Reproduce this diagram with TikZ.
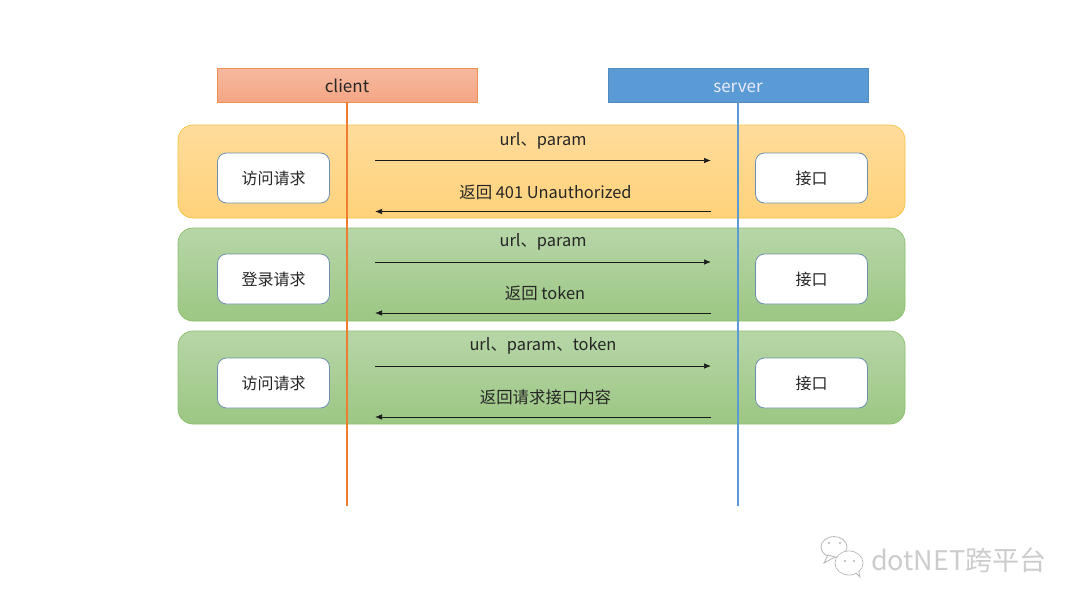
\documentclass[tikz,border=0pt]{standalone}
\usepackage{fontspec}
\setmainfont{Noto Sans CJK SC}
\usetikzlibrary{arrows.meta}
\definecolor{orangeedge}{HTML}{ED7D31}
\definecolor{blueedge}{HTML}{5B9BD5}
\definecolor{boxedge}{HTML}{6E8FB0}
\definecolor{ytop}{HTML}{FFDC9C}
\definecolor{ybot}{HTML}{FFD27A}
\definecolor{yedge}{HTML}{F5C242}
\definecolor{gtop}{HTML}{B7D6A8}
\definecolor{gbot}{HTML}{9CC783}
\definecolor{gedge}{HTML}{8CBF6C}
\definecolor{ctop}{HTML}{F6B9A0}
\definecolor{cbot}{HTML}{F4A684}
\definecolor{msgline}{HTML}{1A1A1A}
\tikzset{
  x=1pt,y=-1pt,
  every node/.style={inner sep=0pt,outer sep=0pt,text=black!85},
  header/.style={minimum width=260pt,minimum height=34pt,text height=15pt,text depth=1pt,font=\fontsize{17}{20}\selectfont},
  band/.style={rounded corners=15pt,minimum width=727pt,minimum height=93pt,line width=.7pt},
  yband/.style={band,draw=yedge,top color=ytop,bottom color=ybot},
  gband/.style={band,draw=gedge,top color=gtop,bottom color=gbot},
  actbox/.style={draw=boxedge,line width=.8pt,fill=white,rounded corners=9pt,minimum width=112pt,minimum height=50pt,font=\fontsize{16}{19}\selectfont},
  lbl/.style={font=\fontsize{16.4}{19}\selectfont,text height=13pt,text depth=1pt},
  msg/.style={-{Latex[length=7pt,width=5.5pt]},draw=msgline,line width=.7pt},
  life/.style={draw=#1,line width=1.2pt},
  mark bubble/.style={draw=black!28,line width=.8pt,fill=white},
}
\begin{document}
\begin{tikzpicture}
\useasboundingbox (0,0) rectangle (1080,608);
\fill[white] (0,0) rectangle (1080,608);
% bands
\node[yband] (b1) at (541.5,171.5) {};
\node[gband] (b2) at (541.5,274.5) {};
\node[gband] (b3) at (541.5,377.5) {};
% headers
\node[header,draw=orangeedge!85!white,line width=.7pt,top color=ctop,bottom color=cbot] (client) at (347,85) {client};
\node[header,draw=blueedge!90!black,line width=.7pt,fill=blueedge,text=white!92!blue] (server) at (738,85) {server};
% lifeline ends
\coordinate (cend) at (347,506);
\coordinate (send) at (738,506);
\draw[life=orangeedge] (client.south) -- (cend);
\draw[life=blueedge] (server.south) -- (send);
% boxes
\node[actbox] (a1) at (273.5,178) {访问请求};
\node[actbox] (s1) at (811.5,178) {接口};
\node[actbox] (a2) at (273.5,279) {登录请求};
\node[actbox] (s2) at (811.5,279) {接口};
\node[actbox] (a3) at (273.5,383) {访问请求};
\node[actbox] (s3) at (811.5,383) {接口};
% message endpoints
\coordinate (l1a) at (375,160.5); \coordinate (r1a) at (711,160.5);
\coordinate (l1b) at (375,211.5); \coordinate (r1b) at (711,211.5);
\coordinate (l2a) at (375,262);   \coordinate (r2a) at (711,262);
\coordinate (l2b) at (375,313);   \coordinate (r2b) at (711,313);
\coordinate (l3a) at (375,366);   \coordinate (r3a) at (711,366);
\coordinate (l3b) at (375,417);   \coordinate (r3b) at (711,417);
\draw[msg] (l1a) -- (r1a);
\draw[msg] (r1b) -- (l1b);
\draw[msg] (l2a) -- (r2a);
\draw[msg] (r2b) -- (l2b);
\draw[msg] (l3a) -- (r3a);
\draw[msg] (r3b) -- (l3b);
% labels
\node[lbl] (t1) at (543,139) {url、param};
\node[lbl] (t2) at (545.5,192) {返回 401 Unauthorized};
\node[lbl] (t3) at (543,240.5) {url、param};
\node[lbl] (t4) at (545,293.5) {返回 token};
\node[lbl] (t5) at (543,344) {url、param、token};
\node[lbl] (t6) at (545.5,397) {返回请求接口内容};
% watermark
\fill[mark bubble] (834,547) ellipse (13pt and 10.5pt);
\fill[mark bubble] (828,555) -- (824,563) -- (835,557) -- cycle;
\fill[mark bubble] (849,563) ellipse (14pt and 12pt);
\fill[mark bubble] (855,572) -- (860,577) -- (858,568) -- cycle;
\fill[white] (849,563) ellipse (13.4pt and 11.4pt);
\fill[black!30] (829,543) circle (1.1pt) (840,543) circle (1.1pt) (845,561) circle (1.1pt) (854,561) circle (1.1pt);
\node[anchor=west,font=\fontsize{27}{30}\selectfont,text=black!20] (wm) at (871,560) {dotNET跨平台};
\end{tikzpicture}
\end{document}
